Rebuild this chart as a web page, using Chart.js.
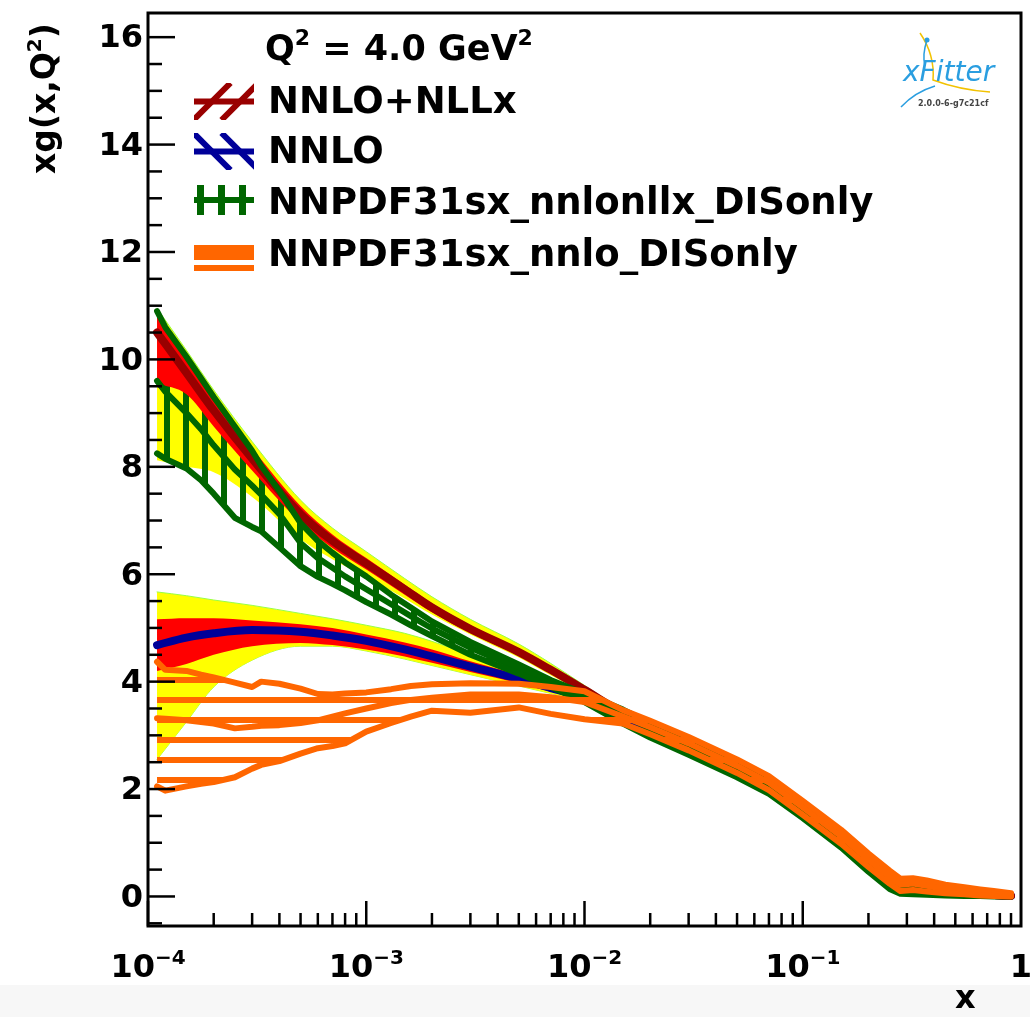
<!DOCTYPE html>
<html>
<head>
<meta charset="utf-8">
<script src="https://cdn.jsdelivr.net/npm/chart.js@4.4.1/dist/chart.umd.min.js"></script>
<style>
  html, body { margin: 0; padding: 0; background: #fff; }
  #wrap { width: 1030px; height: 1017px; position: relative; }
</style>
</head>
<body>
<div id="wrap"><canvas id="pdf"></canvas></div>
<script>
// x grids: smooth fits vs. NNPDF replica envelopes (finer, they wiggle)
const X_FIT = [1.1e-4, 1.5e-4, 2e-4, 3e-4, 5e-4, 7e-4, 1e-3, 1.5e-3, 2e-3, 3e-3, 5e-3, 7e-3,
  1e-2, 1.5e-2, 2e-2, 3e-2, 5e-2, 7e-2, 0.1, 0.15, 0.2, 0.25, 0.3, 0.4, 0.5, 0.6, 0.7, 0.8, 0.9];
const X_NN = [1.1e-4, 1.2e-4, 1.5e-4, 1.75e-4, 2e-4, 2.5e-4, 3e-4, 3.3e-4, 4e-4, 5e-4, 6e-4, 7e-4, 8e-4,
  1e-3, 1.3e-3, 1.6e-3, 2e-3, 3e-3, 5e-3, 7e-3, 1e-2, 1.5e-2, 2e-2, 3e-2, 5e-2, 7e-2, 0.1, 0.15, 0.2,
  0.25, 0.28, 0.32, 0.37, 0.45, 0.55, 0.65, 0.75, 0.9];

// NNLO+NLLx fit
const NLLX_CENTRAL = [10.5, 9.75, 9.05, 8.15, 7.12, 6.62, 6.2, 5.72, 5.38, 4.98, 4.55, 4.22, 3.85, 3.42, 3.18,
  2.85, 2.40, 2.08, 1.58, 1.04, 0.64, 0.36, 0.2, 0.13, 0.09, 0.06, 0.04, 0.02, 0.01];
const NLLX_EXP_HI = [10.8, 10.03, 9.3, 8.35, 7.27, 6.74, 6.3, 5.81, 5.46, 5.05, 4.61, 4.27, 3.90, 3.46, 3.22,
  2.89, 2.44, 2.12, 1.62, 1.07, 0.67, 0.39, 0.22, 0.15, 0.11, 0.07, 0.05, 0.03, 0.02];
const NLLX_EXP_LO = [9.55, 9.35, 8.75, 7.93, 6.96, 6.49, 6.09, 5.62, 5.29, 4.90, 4.48, 4.16, 3.80, 3.38, 3.14,
  2.81, 2.36, 2.04, 1.54, 1.01, 0.61, 0.33, 0.18, 0.11, 0.07, 0.05, 0.03, 0.01, 0.0];
const NLLX_TOT_HI = [10.95, 10.17, 9.43, 8.47, 7.38, 6.86, 6.42, 5.92, 5.58, 5.16, 4.70, 4.34, 3.93, 3.48, 3.23,
  2.90, 2.45, 2.13, 1.63, 1.08, 0.68, 0.39, 0.23, 0.15, 0.11, 0.08, 0.05, 0.03, 0.02];
const NLLX_TOT_LO = [8.12, 8.0, 7.9, 7.44, 6.65, 6.28, 5.95, 5.55, 5.25, 4.88, 4.45, 4.12, 3.78, 3.36, 3.13,
  2.80, 2.35, 2.03, 1.53, 1.00, 0.60, 0.33, 0.17, 0.11, 0.07, 0.04, 0.03, 0.01, 0.0];

// NNLO fit
const NNLO_CENTRAL = [4.68, 4.82, 4.90, 4.96, 4.93, 4.86, 4.76, 4.60, 4.47, 4.28, 4.05, 3.88, 3.70, 3.32, 3.10,
  2.80, 2.38, 2.06, 1.60, 1.06, 0.65, 0.37, 0.20, 0.13, 0.09, 0.06, 0.04, 0.02, 0.01];
const NNLO_EXP_HI = [5.16, 5.18, 5.18, 5.14, 5.07, 5.0, 4.88, 4.73, 4.6, 4.38, 4.13, 3.95, 3.76, 3.36, 3.14,
  2.84, 2.42, 2.10, 1.64, 1.09, 0.68, 0.40, 0.22, 0.15, 0.11, 0.07, 0.05, 0.03, 0.02];
const NNLO_EXP_LO = [4.2, 4.33, 4.5, 4.66, 4.72, 4.68, 4.6, 4.47, 4.35, 4.18, 3.97, 3.81, 3.64, 3.28, 3.06,
  2.76, 2.34, 2.02, 1.56, 1.03, 0.62, 0.34, 0.18, 0.11, 0.07, 0.05, 0.03, 0.01, 0.0];
const NNLO_TOT_HI = [5.67, 5.6, 5.52, 5.42, 5.27, 5.17, 5.05, 4.9, 4.75, 4.5, 4.2, 4.0, 3.8, 3.38, 3.16,
  2.86, 2.44, 2.12, 1.66, 1.10, 0.69, 0.41, 0.23, 0.16, 0.11, 0.08, 0.05, 0.03, 0.02];
const NNLO_TOT_LO = [2.55, 3.25, 3.9, 4.4, 4.66, 4.66, 4.57, 4.42, 4.3, 4.13, 3.92, 3.78, 3.62, 3.26, 3.04,
  2.74, 2.32, 2.0, 1.54, 1.02, 0.61, 0.33, 0.17, 0.10, 0.07, 0.04, 0.03, 0.01, 0.0];

// NNPDF31sx_nnlonllx_DISonly
const NNLLX_PDF_HI = [10.9, 10.6, 10.05, 9.65, 9.3, 8.75, 8.3, 8.02, 7.55, 6.95, 6.62, 6.4, 6.22, 5.96, 5.62, 5.38,
  5.12, 4.74, 4.32, 4.03, 3.78, 3.48, 3.22, 2.90, 2.48, 2.17, 1.72, 1.17, 0.72, 0.40, 0.25, 0.23, 0.22, 0.18,
  0.13, 0.10, 0.07, 0.04];
const NNLLX_PDF_C = [9.6, 9.4, 9.0, 8.7, 8.4, 7.95, 7.65, 7.48, 7.12, 6.58, 6.3, 6.12, 5.96, 5.72, 5.44, 5.22,
  4.99, 4.63, 4.24, 3.97, 3.70, 3.38, 3.12, 2.80, 2.38, 2.07, 1.62, 1.07, 0.62, 0.30, 0.15, 0.13, 0.12, 0.10,
  0.07, 0.05, 0.03, 0.02];
const NNLLX_PDF_LO = [8.25, 8.15, 7.97, 7.75, 7.5, 7.05, 6.88, 6.8, 6.5, 6.15, 5.95, 5.82, 5.7, 5.48, 5.25, 5.05,
  4.85, 4.5, 4.15, 3.9, 3.62, 3.22, 2.96, 2.64, 2.22, 1.91, 1.46, 0.91, 0.46, 0.14, 0.05, 0.04, 0.03, 0.02,
  0.01, 0.01, 0.0, 0.0];

// NNPDF31sx_nnlo_DISonly
const NNLO_PDF_HI = [4.37, 4.22, 4.2, 4.13, 4.08, 3.98, 3.90, 4.00, 3.96, 3.87, 3.77, 3.76, 3.78, 3.80, 3.86,
  3.92, 3.95, 3.97, 3.96, 3.90, 3.82, 3.47, 3.27, 2.97, 2.55, 2.24, 1.78, 1.24, 0.80, 0.48, 0.33, 0.34, 0.30,
  0.22, 0.17, 0.13, 0.10, 0.06];
const NNLO_PDF_C = [3.32, 3.31, 3.28, 3.25, 3.22, 3.13, 3.16, 3.18, 3.19, 3.23, 3.28, 3.35, 3.41, 3.50, 3.60,
  3.66, 3.70, 3.76, 3.76, 3.71, 3.62, 3.35, 3.15, 2.85, 2.43, 2.12, 1.66, 1.12, 0.68, 0.36, 0.22, 0.24, 0.2,
  0.14, 0.10, 0.07, 0.05, 0.02];
const NNLO_PDF_LO = [2.05, 1.97, 2.05, 2.10, 2.13, 2.22, 2.38, 2.45, 2.52, 2.66, 2.76, 2.80, 2.85, 3.07, 3.23,
  3.35, 3.46, 3.42, 3.52, 3.40, 3.30, 3.22, 3.02, 2.72, 2.30, 1.98, 1.52, 0.98, 0.55, 0.24, 0.10, 0.12, 0.09,
  0.06, 0.04, 0.02, 0.01, 0.0];

const Y_TICKS = [0, 2, 4, 6, 8, 10, 12, 14, 16];
const X_TICKS = [1e-4, 1e-3, 1e-2, 1e-1, 1];
const X_TICK_LABELS = [["10", "\u22124"], ["10", "\u22123"], ["10", "\u22122"], ["10", "\u22121"], ["1", ""]];
const LEGEND = ["NNLO+NLLx", "NNLO", "NNPDF31sx_nnlonllx_DISonly", "NNPDF31sx_nnlo_DISonly"];

const DARKRED = "#990000";
const BLUE = "#000099";
const RED = "#ff0000";
const YELLOW = "#ffff00";
const GREEN = "#006600";
const ORANGE = "#ff6600";
const EDGE = "#99ff44";
const FONT = '"DejaVu Sans", sans-serif';

function hatch(w, h, color, paint) {
  const c = document.createElement("canvas");
  c.width = w;
  c.height = h;
  const g = c.getContext("2d");
  g.fillStyle = color;
  paint(g);
  return g.createPattern(c, "repeat");
}
const greenHatch = hatch(19, 1, GREEN, (g) => g.fillRect(12, 0, 6, 1));
const orangeHatch = hatch(1, 20, ORANGE, (g) => { g.fillRect(0, 0, 1, 3); g.fillRect(0, 17, 1, 3); });

const pts = (xs, ys) => xs.map((x, i) => ({ x, y: ys[i] }));
const datasets = [];

function addLine(xs, ys, opts) {
  datasets.push(Object.assign({
    data: pts(xs, ys),
    pointRadius: 0,
    fill: false,
    borderWidth: 0,
    borderColor: "rgba(0,0,0,0)",
    borderJoinStyle: "round",
    borderCapStyle: "round",
  }, opts));
  return datasets.length - 1;
}

function addBand(xs, lo, hi, fillStyle, smooth, edgeLo, edgeHi) {
  const extra = smooth ? { cubicInterpolationMode: "monotone" } : {};
  const iLo = addLine(xs, lo, Object.assign({}, extra, edgeLo ? { borderWidth: 1, borderColor: EDGE } : {}));
  addLine(xs, hi, Object.assign({ fill: iLo, backgroundColor: fillStyle }, extra,
    edgeHi ? { borderWidth: 1, borderColor: EDGE } : {}));
}

// bottom -> top
addBand(X_FIT, NLLX_TOT_LO, NLLX_TOT_HI, YELLOW, true, false, true);
addBand(X_FIT, NNLO_TOT_LO, NNLO_TOT_HI, YELLOW, true, true, true);
addBand(X_NN, NNLLX_PDF_LO, NNLLX_PDF_HI, greenHatch, false);
addBand(X_FIT, NLLX_EXP_LO, NLLX_EXP_HI, RED, true);
addBand(X_FIT, NNLO_EXP_LO, NNLO_EXP_HI, RED, true);
addLine(X_FIT, NNLO_CENTRAL, { borderColor: BLUE, borderWidth: 8, cubicInterpolationMode: "monotone" });
addLine(X_FIT, NLLX_CENTRAL, { borderColor: DARKRED, borderWidth: 8, cubicInterpolationMode: "monotone" });
[NNLLX_PDF_HI, NNLLX_PDF_C, NNLLX_PDF_LO].forEach((ys) => addLine(X_NN, ys, { borderColor: GREEN, borderWidth: 6 }));
addBand(X_NN, NNLO_PDF_LO, NNLO_PDF_HI, orangeHatch, false);
[NNLO_PDF_HI, NNLO_PDF_C, NNLO_PDF_LO].forEach((ys) => addLine(X_NN, ys, { borderColor: ORANGE, borderWidth: 6 }));
datasets.forEach((d, i) => { d.order = 1000 - i; });

function textWithSup(ctx, parts, x, y, size) {
  let cx = x;
  parts.forEach(([t, sup]) => {
    ctx.font = `bold ${sup ? Math.round(size * 0.62) : size}px ${FONT}`;
    ctx.fillText(t, cx, sup ? y - size * 0.42 : y);
    cx += ctx.measureText(t).width;
  });
  return cx - x;
}

function widthWithSup(ctx, parts, size) {
  let w = 0;
  parts.forEach(([t, sup]) => {
    ctx.font = `bold ${sup ? Math.round(size * 0.62) : size}px ${FONT}`;
    w += ctx.measureText(t).width;
  });
  return w;
}

// legend swatch: two diagonal hatch strokes plus the central line
function hatchBox(ctx, x0, y0, x1, y1, color, dir) {
  ctx.save();
  ctx.beginPath();
  ctx.rect(x0, y0, x1 - x0, y1 - y0);
  ctx.clip();
  ctx.strokeStyle = color;
  ctx.lineWidth = 6;
  const h = y1 - y0;
  [212, 240].forEach((xm) => {
    ctx.beginPath();
    if (dir > 0) { ctx.moveTo(xm - h / 2, y1); ctx.lineTo(xm + h / 2, y0); } else { ctx.moveTo(xm - h / 2, y0); ctx.lineTo(xm + h / 2, y1); }
    ctx.stroke();
  });
  ctx.restore();
  ctx.fillStyle = color;
  ctx.fillRect(x0, (y0 + y1) / 2 - 3, x1 - x0, 6);
}

const decor = {
  id: "decor",
  beforeDraw(chart) {
    const { ctx, width, height } = chart;
    ctx.save();
    ctx.fillStyle = "#ffffff";
    ctx.fillRect(0, 0, width, height);
    ctx.fillStyle = "#f7f7f7";
    ctx.fillRect(0, 985, width, height - 985);
    ctx.restore();
  },
  afterDraw(chart) {
    const { ctx, chartArea: { left, right, top, bottom } } = chart;
    const xs = chart.scales.x;
    const ys = chart.scales.y;
    ctx.save();
    ctx.strokeStyle = "#000";
    ctx.fillStyle = "#000";
    ctx.lineCap = "butt";

    // ticks, pointing into the frame
    ctx.lineWidth = 2.5;
    for (let v = -0.5; v <= 16.45; v += 0.5) {
      const p = ys.getPixelForValue(v);
      const len = Y_TICKS.includes(v) ? 27 : 14;
      ctx.beginPath(); ctx.moveTo(left, p); ctx.lineTo(left + len, p); ctx.stroke();
    }
    for (let d = 1e-4; d < 0.5; d *= 10) {
      for (let m = 1; m <= 9; m++) {
        const p = xs.getPixelForValue(m * d);
        const len = m === 1 ? 25 : 13;
        ctx.beginPath(); ctx.moveTo(p, bottom); ctx.lineTo(p, bottom - len); ctx.stroke();
      }
    }
    // frame
    ctx.lineWidth = 3;
    ctx.strokeRect(left, top, right - left, bottom - top);

    // y tick labels
    ctx.font = `bold 32px ${FONT}`;
    ctx.textAlign = "right";
    ctx.textBaseline = "middle";
    Y_TICKS.forEach((v) => ctx.fillText(String(v), 143, ys.getPixelForValue(v) + 2));

    // x tick labels
    ctx.textAlign = "left";
    ctx.textBaseline = "alphabetic";
    X_TICKS.forEach((v, i) => {
      const [base, sup] = X_TICK_LABELS[i];
      const parts = [[base, false], [sup, true]];
      const w = widthWithSup(ctx, parts, 32);
      textWithSup(ctx, parts, xs.getPixelForValue(v) - w / 2, 977, 32);
    });

    // axis titles
    ctx.font = `bold 32px ${FONT}`;
    ctx.fillText("x", 955, 1008);
    ctx.save();
    ctx.translate(55, 174);
    ctx.rotate(-Math.PI / 2);
    textWithSup(ctx, [["xg(x,Q", false], ["2", true], [")", false]], 0, 0, 33);
    ctx.restore();

    // header + legend
    textWithSup(ctx, [["Q", false], ["2", true], [" = 4.0 GeV", false], ["2", true]], 265, 60, 35);
    const baselines = [113, 163, 214, 266];
    ctx.font = `bold 37px ${FONT}`;
    LEGEND.forEach((t, i) => ctx.fillText(t, 268, baselines[i]));
    hatchBox(ctx, 194, 83, 254, 120, DARKRED, 1);
    hatchBox(ctx, 194, 133, 254, 170, BLUE, -1);
    ctx.fillStyle = GREEN;
    [197, 218, 239].forEach((x) => ctx.fillRect(x, 185, 7, 30));
    ctx.fillRect(194, 197, 60, 6);
    ctx.fillStyle = ORANGE;
    ctx.fillRect(194, 245, 60, 15);
    ctx.fillRect(194, 265, 60, 6);

    // xFitter logo
    ctx.lineWidth = 1.5;
    ctx.strokeStyle = "#f2c200";
    ctx.beginPath();
    ctx.moveTo(920, 33); ctx.quadraticCurveTo(935, 55, 933, 80); ctx.quadraticCurveTo(960, 90, 990, 92);
    ctx.stroke();
    ctx.strokeStyle = "#2a9ee0";
    ctx.beginPath();
    ctx.moveTo(927, 40); ctx.quadraticCurveTo(922, 55, 925, 66);
    ctx.moveTo(901, 107); ctx.quadraticCurveTo(915, 92, 935, 86);
    ctx.stroke();
    ctx.fillStyle = "#2a9ee0";
    ctx.beginPath(); ctx.arc(927, 40, 2.5, 0, Math.PI * 2); ctx.fill();
    ctx.font = `italic 28px ${FONT}`;
    ctx.fillText("xFitter", 903, 81);
    ctx.font = `bold 8px ${FONT}`;
    ctx.fillStyle = "#444";
    ctx.fillText("2.0.0-6-g7c21cf", 918, 106);
    ctx.restore();
  },
};

new Chart(document.getElementById("pdf"), {
  type: "line",
  data: { datasets },
  options: {
    responsive: true,
    maintainAspectRatio: false,
    animation: false,
    devicePixelRatio: 1,
    layout: { padding: { left: 148, right: 9, top: 13, bottom: 91 } },
    plugins: { legend: { display: false }, tooltip: { enabled: false } },
    scales: {
      x: { type: "logarithmic", min: 1e-4, max: 1, display: false },
      y: { type: "linear", min: -0.55, max: 16.45, display: false },
    },
  },
  plugins: [decor],
});
</script>
</body>
</html>
